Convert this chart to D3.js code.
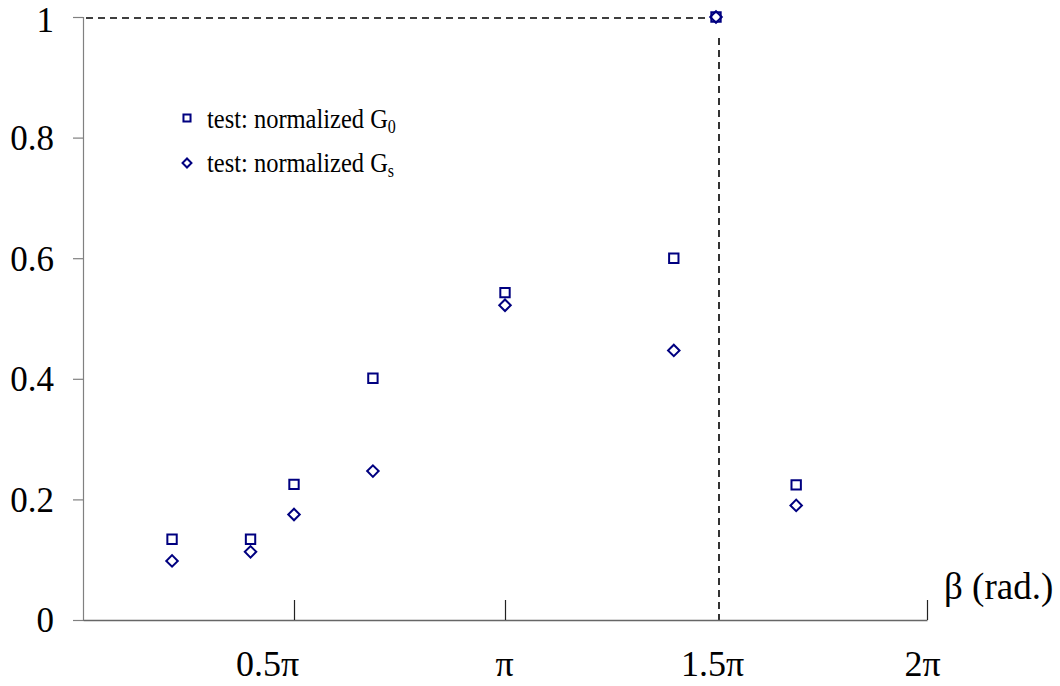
<!DOCTYPE html>
<html>
<head>
<meta charset="utf-8">
<script src="https://cdn.jsdelivr.net/npm/d3@7/dist/d3.min.js"></script>
<style>
  html, body { margin: 0; padding: 0; background: #fff; }
  svg { display: block; }
  text { font-family: "Liberation Serif", "Times New Roman", serif; fill: #000; }
</style>
</head>
<body>
<svg id="chart" width="1060" height="686"></svg>
<script>
// Data (x in units of pi)
const betaPi = [0.211, 0.397, 0.5, 0.687, 1.0, 1.4, 1.5, 1.69];
const normG0 = [0.134, 0.134, 0.225, 0.401, 0.543, 0.600, 1.0, 0.224];
const normGs = [0.098, 0.113, 0.175, 0.247, 0.522, 0.447, 1.0, 0.190];
const xTicks = [0.5, 1, 1.5, 2];
const xTickLabels = ["0.5\u03c0", "\u03c0", "1.5\u03c0", "2\u03c0"];
const yTicks = [0, 0.2, 0.4, 0.6, 0.8, 1];
const yTickLabels = ["0", "0.2", "0.4", "0.6", "0.8", "1"];
const seriesNames = ["test: normalized G", "test: normalized G"];
const seriesSubs = ["0", "s"];
const peakX = 1.5, peakY = 1;

const svg = d3.select("#chart");
const x = d3.scaleLinear().domain([0, 2]).range([83, 927]);
const y = d3.scaleLinear().domain([0, 1]).range([620, 17]);
const navy = "#000080";
const labelShift = { 0.5: -27, 1: -1, 1.5: -4, 2: -5 };

// Dashed reference lines
svg.append("line")
  .attr("x1", x(0) + 3).attr("x2", x(peakX) - 6)
  .attr("y1", y(peakY) + 1).attr("y2", y(peakY) + 1)
  .attr("stroke", "#000").attr("stroke-width", 1.6)
  .attr("stroke-dasharray", "7,5");
svg.append("line")
  .attr("x1", x(peakX) + 3).attr("x2", x(peakX) + 3)
  .attr("y1", y(peakY) + 21).attr("y2", y(0))
  .attr("stroke", "#000").attr("stroke-width", 1.6)
  .attr("stroke-dasharray", "7,5");

// Y axis
const yAxis = d3.axisLeft(y).tickValues(yTicks).tickSize(10)
  .tickFormat((d, i) => yTickLabels[i]).tickPadding(19);
const gy = svg.append("g").attr("transform", `translate(${x(0)},0)`).call(yAxis);
gy.select(".domain").attr("stroke", "#808080").attr("stroke-width", 1.2);
gy.selectAll(".tick line").attr("stroke", "#808080").attr("stroke-width", 1.2);
gy.selectAll(".tick text").attr("font-size", 35)
  .attr("font-family", "Liberation Serif").attr("fill", "#000")
  .attr("dy", (d) => d === 1 ? "0.42em" : "0.34em");

// X axis (ticks pointing up)
const xAxis = d3.axisBottom(x).tickValues(xTicks).tickSize(-20)
  .tickFormat((d, i) => xTickLabels[i]).tickSizeOuter(0);
const gx = svg.append("g").attr("transform", `translate(0,${y(0)})`).call(xAxis);
gx.select(".domain").attr("stroke", "#666").attr("stroke-width", 1.4);
gx.selectAll(".tick line").attr("stroke", "#222").attr("stroke-width", 1.2);
gx.selectAll(".tick line").filter((d) => d === peakX).remove();
gx.selectAll(".tick text").attr("font-size", 36)
  .attr("font-family", "Liberation Serif").attr("fill", "#000")
  .attr("y", 0).attr("dy", 0)
  .attr("dx", (d) => labelShift[d] || 0)
  .attr("transform", "translate(0,56)");

// Axis title
svg.append("text").attr("x", 944).attr("y", 599)
  .attr("font-size", 37).text("\u03b2 (rad.)");

// Markers
const sqPath = d3.symbol().type(d3.symbolSquare).size(88);
const dmPath = d3.symbol().type(d3.symbolSquare).size(66);

svg.append("g").selectAll("path").data(betaPi).join("path")
  .attr("d", sqPath())
  .attr("transform", (d, i) => `translate(${x(d)},${y(normG0[i])})`)
  .attr("fill", "none").attr("stroke", navy).attr("stroke-width", 2);

svg.append("g").selectAll("path").data(betaPi).join("path")
  .attr("d", dmPath())
  .attr("transform", (d, i) => `translate(${x(d)},${y(normGs[i])}) rotate(45)`)
  .attr("fill", "none").attr("stroke", navy).attr("stroke-width", 2);

// Legend
const legY = [118, 162];
const leg = svg.append("g");
leg.append("path").attr("d", d3.symbol().type(d3.symbolSquare).size(50)())
  .attr("transform", `translate(187,${legY[0]})`)
  .attr("fill", "none").attr("stroke", navy).attr("stroke-width", 2);
leg.append("path").attr("d", d3.symbol().type(d3.symbolSquare).size(40)())
  .attr("transform", `translate(187,${legY[1] + 1}) rotate(45)`)
  .attr("fill", "none").attr("stroke", navy).attr("stroke-width", 2);
seriesNames.forEach((name, i) => {
  const t = leg.append("text")
    .attr("transform", `translate(207,${legY[i] + 10}) scale(1,1.13)`)
    .attr("font-size", 24.5);
  t.append("tspan").text(name);
  t.append("tspan").attr("font-size", 16).attr("dy", 4).text(seriesSubs[i]);
});
</script>
</body>
</html>
